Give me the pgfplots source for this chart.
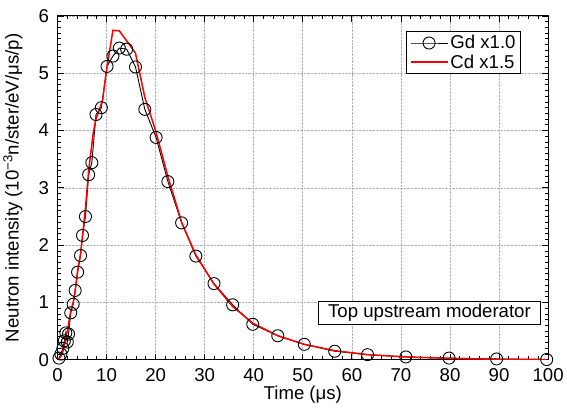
\documentclass[border=0pt]{standalone}
\usepackage{fontspec}
\setmainfont{Liberation Sans}
\usepackage{pgfplots}
\pgfplotsset{compat=1.18}
\newcommand{\fs}{\fontsize{18.5}{21}\selectfont}
\begin{document}
\begin{tikzpicture}
\begin{axis}[
  scale only axis, width=488pt, height=342pt,
  xmin=0, xmax=100, ymin=0, ymax=6,
  xtick={0,10,...,100}, ytick={0,1,...,6},
  minor x tick num=4, minor y tick num=9,
  tick align=inside,
  major tick length=6pt, minor tick length=3.5pt,
  xtick pos=both, ytick pos=both,
  grid=major, major grid style={gray!60, densely dotted, line width=0.7pt},
  axis line style={line width=1pt},
  tick style={line width=0.8pt, black},
  /pgf/number format/assume math mode=true,
  ticklabel style={font=\fs},
  xticklabel style={yshift=-5pt},
  yticklabel style={xshift=-5pt},
  xlabel={Time (μs)},
  ylabel={Neutron intensity (10\textsuperscript{−3}n/ster/eV/μs/p)},
  xlabel style={font=\fs, yshift=2.5pt},
  ylabel style={font=\fs, yshift=9pt},
  legend style={at={(0.711,0.956)}, anchor=north west, draw=black, line width=0.8pt,
    font=\fs, inner xsep=3pt, inner ysep=2pt, row sep=0pt, cells={anchor=west}},
  legend cell align=left,
]
\addplot[black, line width=0.9pt, mark=o, mark size=6pt, mark options={fill=white, line width=0.9pt},
  legend image code/.code={\draw[black, line width=0.9pt, mark repeat=2, mark phase=2] plot coordinates {(0cm,0cm) (0.65cm,0cm) (1.3cm,0cm)};}] coordinates {
(0.3,0.03) (0.7,0.1) (1.1,0.2) (1.4,0.33) (1.7,0.47) (2.0,0.31) (2.25,0.45)
(2.7,0.82) (3.2,0.97) (3.6,1.21) (4.1,1.53) (4.7,1.82) (5.1,2.17) (5.7,2.50)
(6.35,3.23) (7.0,3.44) (7.85,4.28) (8.95,4.40) (10.1,5.12) (11.3,5.30)
(12.6,5.44) (14.1,5.42) (15.9,5.11) (17.8,4.37) (20.1,3.88) (22.5,3.11)
(25.3,2.39) (28.2,1.81) (31.9,1.33) (35.7,0.96) (39.8,0.62) (44.9,0.42)
(50.3,0.27) (56.5,0.15) (63.2,0.09) (71.0,0.05) (79.8,0.03) (89.5,0.015) (99.7,0.005)
};
\addlegendentry{Gd x1.0}
\addplot[red, line width=1.5pt, mark=none,
  legend image code/.code={\draw[red, line width=1.5pt] (0cm,0cm) -- (1.3cm,0cm);}] coordinates {
(0,0) (0.3,0.02) (0.7,0.06) (1.1,0.15) (1.4,0.25) (1.7,0.4) (2.0,0.5) (2.25,0.62)
(2.7,0.85) (3.2,1.0) (3.6,1.2) (4.1,1.55) (4.7,1.85) (5.1,2.15) (5.7,2.65)
(6.35,3.3) (7.3,3.97) (7.85,4.2) (9.2,4.53) (9.9,5.0) (11.3,5.75) (12.6,5.74)
(14.5,5.52) (15.9,5.35) (17.8,4.58) (20.1,3.97) (22.5,3.2) (25.3,2.4) (28.2,1.83)
(31.9,1.32) (35.7,0.93) (39.8,0.64) (44.9,0.42) (50.3,0.27) (56.5,0.16) (63.2,0.09)
(71.0,0.05) (79.8,0.025) (89.5,0.01) (99.7,0.005)
};
\addlegendentry{Cd x1.5}
\node[draw=black, line width=0.8pt, fill=white, anchor=east, inner xsep=10pt, inner ysep=3pt,
  font=\fs] at (axis cs:98.6,0.82) {Top upstream moderator};
\end{axis}
\path (current bounding box.north) ++(0,6pt);
\path (current bounding box.south) ++(0,-10pt);
\end{tikzpicture}
\end{document}
